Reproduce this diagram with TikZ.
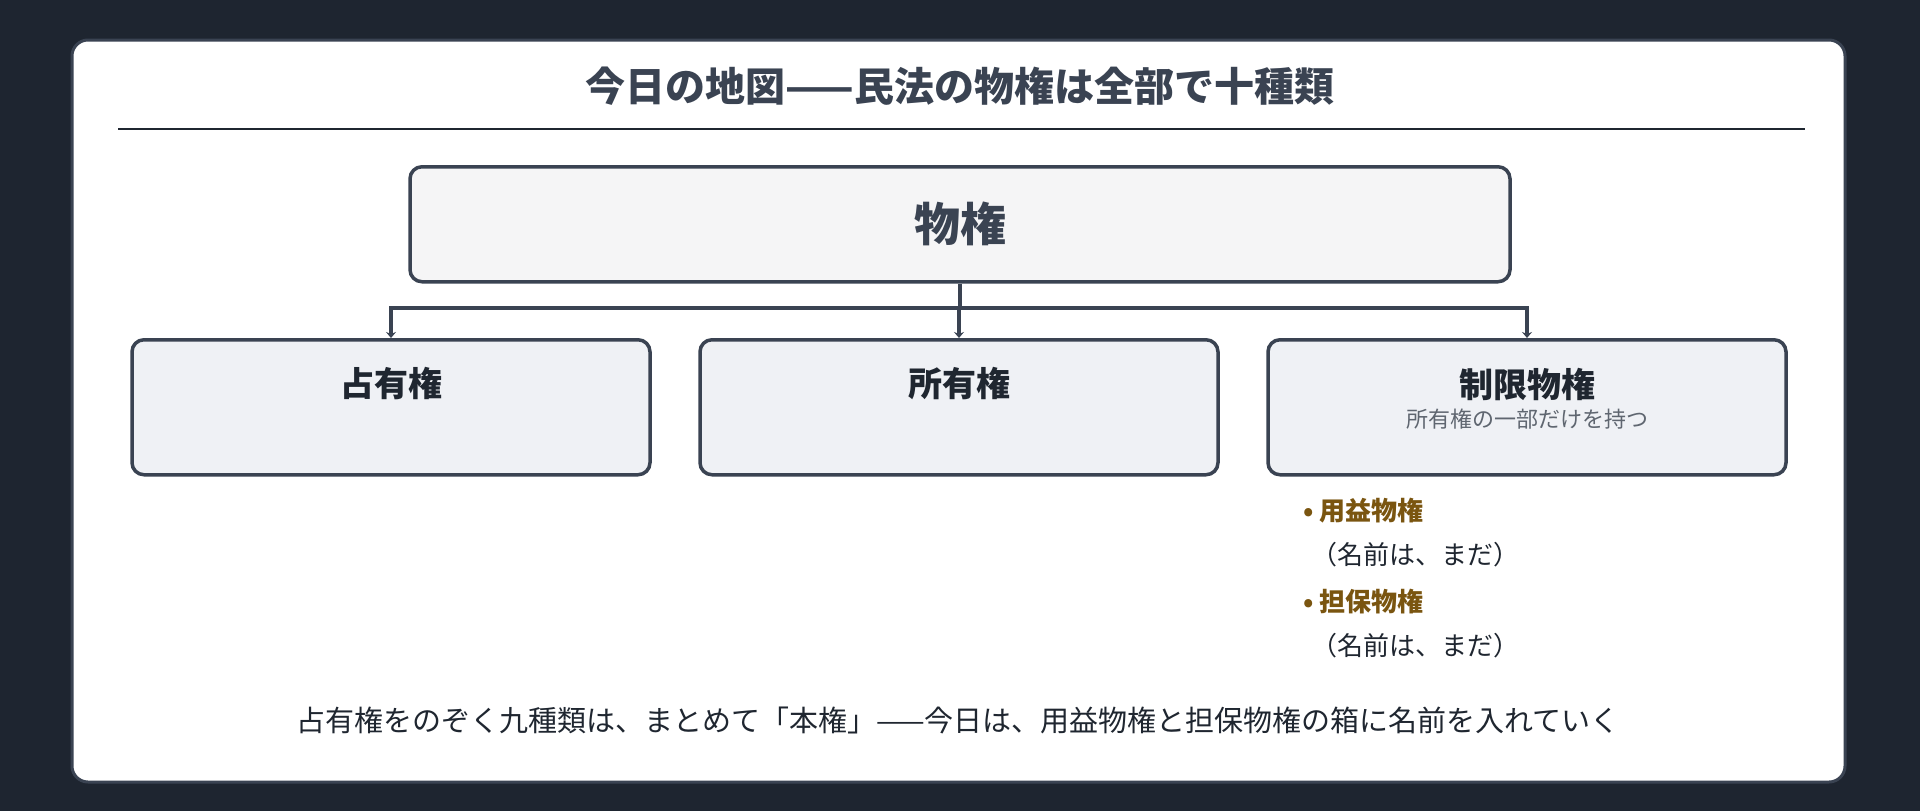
\documentclass[tikz,border=0pt]{standalone}
\usepackage{fontspec}
\setmainfont{Noto Sans CJK JP}
\usetikzlibrary{arrows.meta,positioning}
\definecolor{bgdark}{HTML}{1E2530}
\definecolor{edge}{HTML}{3A4352}
\definecolor{rootfill}{HTML}{F5F5F6}
\definecolor{boxfill}{HTML}{EFF1F5}
\definecolor{subgray}{HTML}{5F6670}
\definecolor{kindbrown}{HTML}{7A5510}
\definecolor{inkdark}{HTML}{1F2630}
\tikzset{
    block/.style = {draw=edge, line width=3.5pt, rounded corners=12pt, fill=boxfill,
        minimum width=518pt, minimum height=135pt, anchor=north},
    heading/.style = {font=\fontsize{34}{40}\selectfont\bfseries, text=inkdark},
    kind/.style = {font=\fontsize{26}{30}\selectfont\bfseries, text=kindbrown, anchor=west},
    note/.style = {font=\fontsize{26}{30}\selectfont, text=inkdark, anchor=west},
    link/.style = {draw=edge, line width=3.5pt, -{Stealth[length=6pt,width=10pt]}}
}
\begin{document}
\begin{tikzpicture}[x=1pt,y=-1pt]
    \fill[bgdark] (0,0) rectangle (1920,811);
    \draw[edge, line width=3pt, fill=white, rounded corners=16pt] (72,40) rectangle (1845,782);
    \node[font=\fontsize{40}{46}\selectfont\bfseries, text=edge] (title) at (960,86) {今日の地図——民法の物権は全部で十種類};
    \draw[inkdark, line width=2pt] (118,129) -- (1805,129);
    % root
    \node[block, fill=rootfill, minimum width=1100pt, minimum height=115pt,
        font=\fontsize{46}{52}\selectfont\bfseries, text=edge] (root) at (960,165) {物権};
    % three branches
    \node[block] (possess) at (391,338) {};
    \node[block] (own) at (959,338) {};
    \node[block] (limited) at (1527,338) {};
    \node[heading] (possesslbl) at (391,384) {占有権};
    \node[heading] (ownlbl) at (959,384) {所有権};
    \node[heading] (limitedlbl) at (1527,384) {制限物権};
    \node[font=\fontsize{22}{26}\selectfont, text=subgray, below=2pt of limitedlbl] (limitedsub) {所有権の一部だけを持つ};
    \coordinate (fork) at (960,308);
    \draw[draw=edge, line width=3.5pt] (root.south) -- (fork);
    \foreach \b in {possess,own,limited}{
        \draw[link] (fork) -| (\b.north);
    }
    % subkinds of limited rights
    \node[kind] (usufruct) at (1300,511) {\textbullet\ 用益物権};
    \node[note] (usufructnote) at (1308,555) {（名前は、まだ）};
    \node[kind] (security) at (1300,602) {\textbullet\ 担保物権};
    \node[note] (securitynote) at (1308,646) {（名前は、まだ）};
    \node[font=\fontsize{29}{34}\selectfont, text=inkdark] (summary) at (958,720) {占有権をのぞく九種類は、まとめて「本権」——今日は、用益物権と担保物権の箱に名前を入れていく};
\end{tikzpicture}
\end{document}
